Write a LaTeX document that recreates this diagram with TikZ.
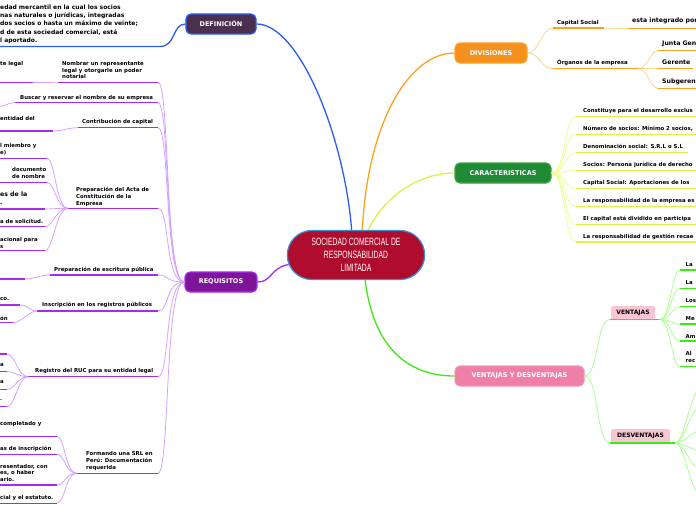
\documentclass[tikz,border=0pt]{standalone}
\usepackage{fontspec}
\setmainfont{DejaVu Sans}
\newfontfamily\titlefont[FakeStretch=0.64]{Liberation Sans}
\usepackage{tikz}
\usetikzlibrary{shapes.misc}

\definecolor{defblue}{HTML}{2A5CF0}
\definecolor{deffill}{HTML}{4A2F4E}
\definecolor{reqfill}{HTML}{7E1599}
\definecolor{reqline}{HTML}{A52BF2}
\definecolor{reqthin}{HTML}{D3A2FF}
\definecolor{divfill}{HTML}{F3901E}
\definecolor{divline}{HTML}{FFA11F}
\definecolor{divthin}{HTML}{FFD28E}
\definecolor{carfill}{HTML}{1F8B37}
\definecolor{carline}{HTML}{DCF048}
\definecolor{carthin}{HTML}{EBFF8C}
\definecolor{vdfill}{HTML}{F07FA8}
\definecolor{vdline}{HTML}{3EEA16}
\definecolor{vdthin}{HTML}{ABFF8E}
\definecolor{vdbox}{HTML}{F8C5D3}
\definecolor{socfill}{HTML}{B00D2E}
\definecolor{socline}{HTML}{3A8FD0}

\begin{document}
\begin{tikzpicture}[x=1pt, y=-1pt,
        topic/.style={rounded corners=5pt, minimum height=20pt, text=white, line width=1.2pt,
            font=\fontsize{6.5}{7}\selectfont\bfseries, inner xsep=0pt},
        tag/.style={fill=vdbox, rounded corners=1.5pt, minimum height=14pt, inner xsep=0pt,
            text=black, font=\fontsize{6}{7}\selectfont\bfseries},
        lbl/.style={anchor=north west, inner sep=0pt, align=left,
            font=\fontsize{5.4}{6.8}\selectfont\bfseries},
        big/.style={anchor=north west, inner sep=0pt, align=left,
            font=\fontsize{6.2}{7.5}\selectfont\bfseries},
        reql/.style={draw=reqline, line width=1.5pt},
        reqc/.style={draw=reqthin, line width=0.8pt},
        divl/.style={draw=divline, line width=1.5pt},
        divc/.style={draw=divthin, line width=0.8pt},
        carl/.style={draw=carline, line width=1.3pt},
        carc/.style={draw=carthin, line width=0.8pt},
        vdl/.style={draw=vdline, line width=1.5pt},
        vdc/.style={draw=vdthin, line width=0.8pt}]
        \useasboundingbox (0, 0) rectangle (696, 520);
        \clip (0, 0) rectangle (696, 520);

        \node[shape=rounded rectangle, fill=socfill, draw=socline, line width=1.2pt,
            minimum width=144pt, minimum height=49pt, text=white, align=center,
            font=\titlefont\fontsize{10.6}{12.8}\selectfont] (soc) at (356, 255)
            {SOCIEDAD COMERCIAL DE\\RESPONSABILIDAD\\LIMITADA};

        \node[topic, fill=deffill, draw=defblue, minimum width=70pt] (def) at (221, 24) {DEFINICIÓN};
        \node[topic, fill=reqfill, draw=reqline, minimum width=72pt] (req) at (221, 282) {REQUISITOS};
        \node[topic, fill=divfill, draw=divline, minimum width=72pt] (div) at (491, 53) {DIVISIONES};
        \node[topic, fill=carfill, draw=carfill!80!carline, minimum width=96pt] (car) at (503, 173) {CARACTERISTICAS};
        \node[topic, fill=vdfill, draw=vdfill!85!white, minimum width=129pt] (vd) at (519.5, 376) {VENTAJAS Y DESVENTAJAS};

        \draw[defblue, line width=1.3pt] (soc.100) .. controls (345, 140) and (300, 24) .. (def.east);
        \draw[divline, line width=1.3pt] (soc.76) .. controls (368, 120) and (410, 53) .. (div.west);
        \draw[carline, line width=1.3pt] (soc.64) .. controls (385, 195) and (420, 173) .. (car.west);
        \draw[reqline, line width=1.3pt] (soc.188) .. controls (270, 268) and (272, 282) .. (req.east);
        \draw[vdline, line width=1.3pt] (soc.-70) .. controls (375, 360) and (420, 376) .. (vd.west);

        % definicion
        \coordinate (d1e) at (160, 46.5);
        \coordinate (d1s) at (0, 46.5);
        \draw[defblue, line width=1.3pt] (def.west) .. controls (172, 24) and (176, 46.5) .. (d1e) -- (d1s);
        \node[lbl, font=\fontsize{6}{8.3}\selectfont\bfseries] (d1) at (0, 4.4)
            {edad mercantil en la cual los socios\\nas naturales o jurídicas, integradas\\dos socios o hasta un máximo de veinte;\\d de esta sociedad comercial, está\\l aportado.};

        % requisitos
        \coordinate (r1e) at (158, 82.3);
        \coordinate (r1s) at (58, 82.3);
        \draw[reqc] (req.west) .. controls +(-20, 0) and +(12, 0) .. (r1e);
        \draw[reql] (r1s) -- (r1e);
        \node[lbl] (r1) at (62, 61) {Nombrar un representante\\legal y otorgarle un poder\\notarial};
        \coordinate (r1a) at (33, 82.5);
        \coordinate (r1b) at (0, 82.5);
        \draw[reqc] (r1s) -- (r1a);
        \draw[reql] (r1a) -- (r1b);
        \node[lbl] (r1x) at (0, 61.3) {te legal};

        \coordinate (r2e) at (158, 102.7);
        \coordinate (r2s) at (15, 102.7);
        \coordinate (r2a) at (-5, 107.5);
        \draw[reqc] (req.west) .. controls +(-20, 0) and +(12, 0) .. (r2e);
        \draw[reql] (r2s) -- (r2e);
        \draw[reqc] (r2s) .. controls +(-8, 0) and +(8, 0) .. (r2a);
        \node[lbl] (r2) at (20, 95) {Buscar y reservar el nombre de su empresa};

        \coordinate (r3e) at (158, 127.7);
        \coordinate (r3s) at (78, 127.7);
        \draw[reqc] (req.west) .. controls +(-20, 0) and +(12, 0) .. (r3e);
        \draw[reql] (r3s) -- (r3e);
        \node[lbl] (r3) at (82, 119) {Contribución de capital};
        \coordinate (r3a) at (53, 131);
        \coordinate (r3b) at (0, 131);
        \draw[reqc] (r3s) .. controls +(-10, 0) and +(10, 0) .. (r3a);
        \draw[reql] (r3a) -- (r3b);
        \node[lbl] (r3x) at (0, 116) {entidad del};

        \coordinate (r4e) at (158, 208.3);
        \coordinate (r4s) at (68, 208.3);
        \draw[reqc] (req.west) .. controls +(-20, 0) and +(12, 0) .. (r4e);
        \draw[reql] (r4s) -- (r4e);
        \node[lbl] (r4) at (76, 187) {Preparación del Acta de\\Constitución de la\\Empresa};
        \coordinate (r4a) at (47, 158.3);
        \coordinate (r4b) at (47, 182.3);
        \coordinate (r4c) at (45, 209);
        \coordinate (r4d) at (45, 226.7);
        \coordinate (r4f) at (45, 250.7);
        \draw[reqc] (r4s) .. controls +(-12, 0) and +(8, 0) .. (r4a);
        \draw[reqc] (r4s) .. controls +(-12, 0) and +(8, 0) .. (r4b);
        \draw[reqc] (r4s) .. controls +(-12, 0) and +(8, 0) .. (r4c);
        \draw[reqc] (r4s) .. controls +(-12, 0) and +(8, 0) .. (r4d);
        \draw[reqc] (r4s) .. controls +(-12, 0) and +(8, 0) .. (r4f);
        \draw[reql] (r4a) -- (0, 158.3);
        \draw[reql] (r4b) -- (0, 182.3);
        \draw[reql] (r4c) -- (0, 209);
        \draw[reql] (r4d) -- (0, 226.7);
        \draw[reql] (r4f) -- (0, 250.7);
        \node[lbl] (r4ax) at (0, 143) {l miembro y\\e)};
        \node[lbl] (r4bx) at (12, 167) {documento\\de nombre};
        \node[big] (r4cx) at (0, 191.6) {es de la\\.};
        \node[lbl] (r4dx) at (0, 218.7) {a de solicitud.};
        \node[lbl] (r4fx) at (0, 237) {acional para\\s};

        \coordinate (r5e) at (158, 275);
        \coordinate (r5s) at (50, 275);
        \draw[reqc] (req.west) .. controls +(-20, 0) and +(12, 0) .. (r5e);
        \draw[reql] (r5s) -- (r5e);
        \node[lbl] (r5) at (54, 267) {Preparación de escritura pública};
        \coordinate (r5a) at (25, 279);
        \draw[reqc] (r5s) .. controls +(-10, 0) and +(10, 0) .. (r5a);
        \draw[reql] (r5a) -- (0, 279);

        \coordinate (r6e) at (158, 311);
        \coordinate (r6s) at (37, 311);
        \draw[reqc] (req.west) .. controls +(-20, 0) and +(12, 0) .. (r6e);
        \draw[reql] (r6s) -- (r6e);
        \node[lbl] (r6) at (42, 302) {Inscripción en los registros públicos};
        \coordinate (r6a) at (20, 305);
        \coordinate (r6b) at (13, 322.7);
        \draw[reqc] (r6s) .. controls +(-8, 0) and +(8, 0) .. (r6a);
        \draw[reqc] (r6s) .. controls +(-8, 0) and +(8, 0) .. (r6b);
        \draw[reql] (r6a) -- (0, 305);
        \draw[reql] (r6b) -- (0, 322.7);
        \node[lbl] (r6ax) at (0, 297) {co.};
        \node[lbl] (r6bx) at (0, 315.7) {ón};

        \coordinate (r7e) at (158, 376.7);
        \coordinate (r7s) at (28, 376.7);
        \draw[reqc] (req.west) .. controls +(-20, 0) and +(12, 0) .. (r7e);
        \draw[reql] (r7s) -- (r7e);
        \node[lbl] (r7) at (35, 368) {Registro del RUC para su entidad legal};
        \coordinate (r7a) at (7, 354);
        \coordinate (r7b) at (7, 371.7);
        \coordinate (r7c) at (7, 389.3);
        \coordinate (r7d) at (7, 406.7);
        \draw[reqc] (r7s) .. controls +(-10, 0) and +(8, 0) .. (r7a);
        \draw[reqc] (r7s) .. controls +(-10, 0) and +(8, 0) .. (r7b);
        \draw[reqc] (r7s) .. controls +(-10, 0) and +(8, 0) .. (r7c);
        \draw[reqc] (r7s) .. controls +(-10, 0) and +(8, 0) .. (r7d);
        \draw[reql] (r7a) -- (0, 354);
        \draw[reql] (r7b) -- (0, 371.7);
        \draw[reql] (r7c) -- (0, 389.3);
        \draw[reql] (r7d) -- (0, 406.7);
        \node[lbl] (r7bx) at (0, 363) {a};
        \node[lbl] (r7cx) at (0, 380.7) {a};
        \node[lbl] (r7dx) at (0, 399.7) {.};

        \coordinate (r8e) at (158, 473.3);
        \coordinate (r8s) at (77, 473.3);
        \draw[reqc] (req.west) .. controls +(-20, 0) and +(12, 0) .. (r8e);
        \draw[reql] (r8s) -- (r8e);
        \node[lbl] (r8) at (86, 451.3) {Formando una SRL en\\Perú: Documentación\\requerida};
        \coordinate (r8a) at (57, 436.7);
        \coordinate (r8b) at (57, 454.3);
        \coordinate (r8c) at (57, 485);
        \coordinate (r8d) at (57, 503.3);
        \draw[reqc] (r8s) .. controls +(-12, 0) and +(8, 0) .. (r8a);
        \draw[reqc] (r8s) .. controls +(-12, 0) and +(8, 0) .. (r8b);
        \draw[reqc] (r8s) .. controls +(-12, 0) and +(8, 0) .. (r8c);
        \draw[reqc] (r8s) .. controls +(-12, 0) and +(8, 0) .. (r8d);
        \draw[reql] (r8a) -- (0, 436.7);
        \draw[reql] (r8b) -- (0, 454.3);
        \draw[reql] (r8c) -- (0, 485);
        \draw[reql] (r8d) -- (0, 503.3);
        \node[lbl] (r8ax) at (0, 421) {completado y};
        \node[lbl] (r8bx) at (0, 445.7) {as de inscripción};
        \node[lbl] (r8cx) at (0, 463.7) {resentador, con\\es, o haber\\ario.};
        \node[lbl] (r8dx) at (0, 494.7) {cial y el estatuto.};

        % divisiones
        \coordinate (v1s) at (553, 28);
        \coordinate (v1e) at (604, 28);
        \draw[divc] (div.east) .. controls +(12, 0) and +(-12, 0) .. (v1s);
        \draw[divl] (v1s) -- (v1e);
        \node[lbl] (v1) at (557, 20) {Capital Social};
        \coordinate (v1a) at (628, 28.7);
        \coordinate (v1b) at (696, 28.7);
        \draw[divc] (v1e) -- (v1a);
        \draw[divl] (v1a) -- (v1b);
        \node[big] (v1x) at (632, 17.4) {esta integrado por};

        \coordinate (v2s) at (553, 68.7);
        \coordinate (v2e) at (638, 68.7);
        \draw[divc] (div.east) .. controls +(12, 0) and +(-12, 0) .. (v2s);
        \draw[divl] (v2s) -- (v2e);
        \node[lbl] (v2) at (557, 59.1) {Órganos de la empresa};
        \coordinate (v2a) at (658, 50.7);
        \coordinate (v2b) at (658, 68.7);
        \coordinate (v2c) at (658, 88.3);
        \draw[divc] (v2e) .. controls +(10, 0) and +(-8, 0) .. (v2a);
        \draw[divc] (v2e) -- (v2b);
        \draw[divc] (v2e) .. controls +(10, 0) and +(-8, 0) .. (v2c);
        \draw[divl] (v2a) -- (696, 50.7);
        \draw[divl] (v2b) -- (693, 68.7);
        \draw[divl] (v2c) -- (696, 88.3);
        \node[big] (v2ax) at (662, 41.1) {Junta Gen};
        \node[big] (v2bx) at (662, 59.4) {Gerente};
        \node[big] (v2cx) at (662, 78.4) {Subgeren};

        % caracteristicas
        \coordinate (c1) at (576, 116.7);
        \coordinate (c2) at (576, 134.3);
        \coordinate (c3) at (576, 152.7);
        \coordinate (c4) at (576, 170.3);
        \coordinate (c5) at (576, 188.7);
        \coordinate (c6) at (576, 206.7);
        \coordinate (c7) at (576, 224.7);
        \coordinate (c8) at (576, 242);
        \draw[carc] (car.east) .. controls +(14, 0) and +(-12, 0) .. (c1);
        \draw[carc] (car.east) .. controls +(14, 0) and +(-12, 0) .. (c2);
        \draw[carc] (car.east) .. controls +(14, 0) and +(-12, 0) .. (c3);
        \draw[carc] (car.east) .. controls +(14, 0) and +(-12, 0) .. (c4);
        \draw[carc] (car.east) .. controls +(14, 0) and +(-12, 0) .. (c5);
        \draw[carc] (car.east) .. controls +(14, 0) and +(-12, 0) .. (c6);
        \draw[carc] (car.east) .. controls +(14, 0) and +(-12, 0) .. (c7);
        \draw[carc] (car.east) .. controls +(14, 0) and +(-12, 0) .. (c8);
        \draw[carl] (c1) -- (696, 116.7);
        \draw[carl] (c2) -- (696, 134.3);
        \draw[carl] (c3) -- (688, 152.7);
        \draw[carl] (c4) -- (696, 170.3);
        \draw[carl] (c5) -- (696, 188.7);
        \draw[carl] (c6) -- (696, 206.7);
        \draw[carl] (c7) -- (696, 224.7);
        \draw[carl] (c8) -- (696, 242);
        \node[lbl] (c1x) at (583, 108) {Constituye para el desarrollo exclus};
        \node[lbl] (c2x) at (583, 126.3) {Número de socios: Mínimo 2 socios,};
        \node[lbl] (c3x) at (583, 144.3) {Denominación social: S.R.L o S.L};
        \node[lbl] (c4x) at (583, 162.3) {Socios: Persona jurídica de derecho};
        \node[lbl] (c5x) at (583, 180.3) {Capital Social: Aportaciones de los};
        \node[lbl] (c6x) at (583, 198.3) {La responsabilidad de la empresa es};
        \node[lbl] (c7x) at (583, 216.3) {El capital está dividido en participa};
        \node[lbl] (c8x) at (583, 233.7) {La responsabilidad de gestión recae};

        % ventajas y desventajas
        \node[tag, minimum width=44pt] (ven) at (633, 313) {VENTAJAS};
        \node[tag, minimum width=59pt] (des) at (640.5, 436) {DESVENTAJAS};
        \coordinate (vs) at (610, 319.5);
        \coordinate (ve) at (660, 319.5);
        \coordinate (ws) at (610, 443);
        \coordinate (we) at (675, 443);
        \draw[vdc] (vd.east) .. controls +(14, 0) and +(-14, 0) .. (vs);
        \draw[vdc] (vd.east) .. controls +(14, 0) and +(-14, 0) .. (ws);
        \draw[vdl] (vs) -- (ve);
        \draw[vdl] (ws) -- (we);

        \coordinate (va) at (680, 270);
        \coordinate (vb) at (680, 288.3);
        \coordinate (vc) at (680, 306.7);
        \coordinate (vdd) at (680, 324);
        \coordinate (vf) at (680, 341);
        \coordinate (vg) at (680, 366.7);
        \draw[vdc] (ve) .. controls +(10, 0) and +(-8, 0) .. (va);
        \draw[vdc] (ve) .. controls +(10, 0) and +(-8, 0) .. (vb);
        \draw[vdc] (ve) .. controls +(10, 0) and +(-8, 0) .. (vc);
        \draw[vdc] (ve) .. controls +(10, 0) and +(-8, 0) .. (vdd);
        \draw[vdc] (ve) .. controls +(10, 0) and +(-8, 0) .. (vf);
        \draw[vdc] (ve) .. controls +(10, 0) and +(-8, 0) .. (vg);
        \draw[vdl] (va) -- (696, 270);
        \draw[vdl] (vb) -- (696, 288.3);
        \draw[vdl] (vc) -- (696, 306.7);
        \draw[vdl] (vdd) -- (696, 324);
        \draw[vdl] (vf) -- (696, 341);
        \draw[vdl] (vg) -- (696, 366.7);
        \node[lbl] (vax) at (685.5, 262) {La};
        \node[lbl] (vbx) at (685.5, 280) {La};
        \node[lbl] (vcx) at (685.5, 298) {Los};
        \node[lbl] (vdx) at (685.5, 316) {Me};
        \node[lbl] (vfx) at (685.5, 334) {Am};
        \node[lbl] (vgx) at (685.5, 351) {Al\\rec};

        \coordinate (wa) at (700, 390);
        \coordinate (wb) at (700, 408);
        \coordinate (wc) at (700, 431.7);
        \coordinate (wd) at (700, 450);
        \coordinate (wf) at (700, 468.3);
        \coordinate (wg) at (700, 493.3);
        \draw[vdc] (we) .. controls +(10, 0) and +(-10, 0) .. (wa);
        \draw[vdc] (we) .. controls +(10, 0) and +(-10, 0) .. (wb);
        \draw[vdc] (we) .. controls +(10, 0) and +(-10, 0) .. (wc);
        \draw[vdc] (we) .. controls +(10, 0) and +(-10, 0) .. (wd);
        \draw[vdc] (we) .. controls +(10, 0) and +(-10, 0) .. (wf);
        \draw[vdc] (we) .. controls +(10, 0) and +(-10, 0) .. (wg);
    \end{tikzpicture}
\end{document}
